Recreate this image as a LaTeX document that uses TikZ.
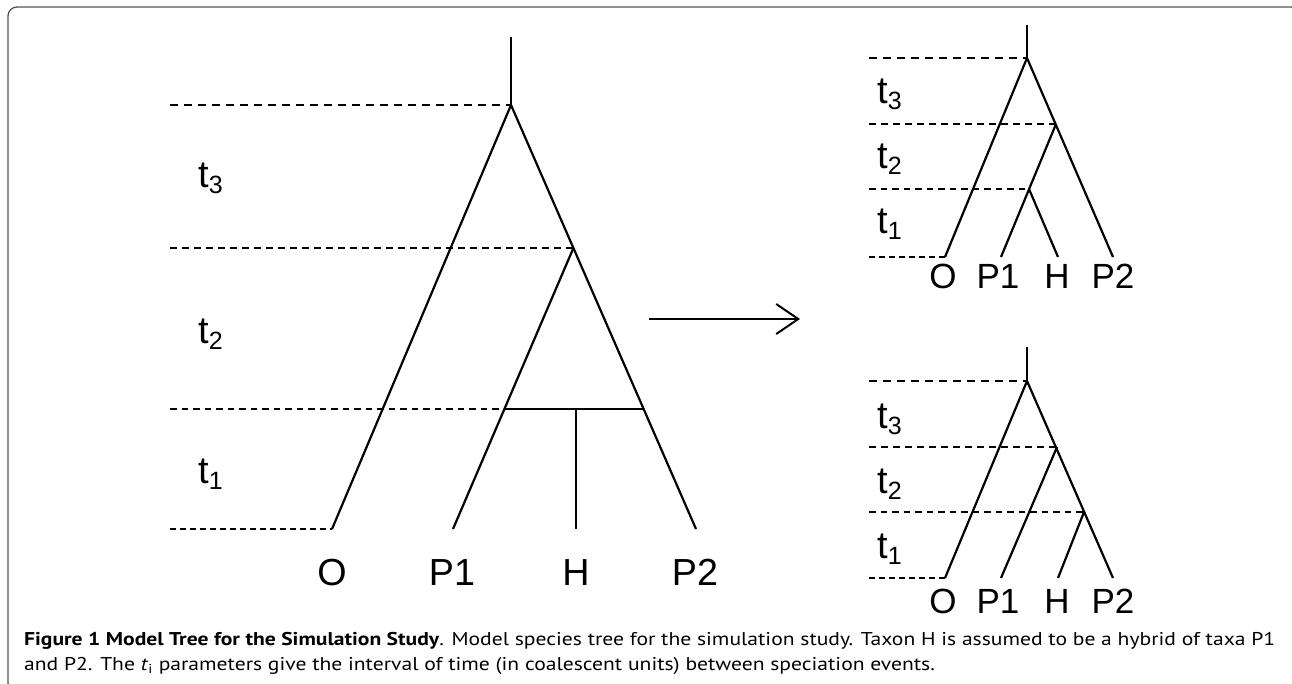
\documentclass[tikz,border=0pt]{standalone}
\usepackage{fontspec}
\setmainfont{Liberation Sans}
\newfontfamily\capfont{PT Sans}
\usetikzlibrary{arrows.meta}
\newsavebox\capboxA
\newsavebox\capboxB
\newcommand\tlab[1]{t\raisebox{-6pt}{\fontsize{25}{25}\selectfont #1}}
\definecolor{captext}{HTML}{333333}
\definecolor{framecol}{HTML}{555555}
\begin{document}
\sbox\capboxA{\capfont\fontsize{18.5}{22}\selectfont\textbf{Figure 1 Model Tree for the Simulation Study}. Model species tree for the simulation study. Taxon H is assumed to be a hybrid of taxa P1}%
\sbox\capboxB{\capfont\fontsize{18.5}{22}\selectfont and P2. The \textit{t}\textsubscript{i} parameters give the interval of time (in coalescent units) between speciation events.}%
\pgfmathsetmacro\capscale{1251/\the\wd\capboxA}%
\begin{tikzpicture}[x=1pt,y=-1pt,
  branch/.style={line width=2.2pt},
  guideA/.style={line width=1.7pt, dash pattern=on 8pt off 6pt},
  guideB/.style={line width=1.5pt, dash pattern=on 7pt off 5pt},
  guideC/.style={line width=1.4pt, dash pattern=on 6.5pt off 5pt},
  guideD/.style={line width=1.3pt, dash pattern=on 5.5pt off 4.5pt},
  leaflab/.style={anchor=base, inner sep=0pt, font=\fontsize{37.7}{40}\selectfont},
  smalllab/.style={anchor=base, inner sep=0pt, font=\fontsize{35}{38}\selectfont},
  tlabel/.style={anchor=base west, inner sep=0pt, font=\fontsize{38}{40}\selectfont},
  capline/.style={anchor=base west, inner sep=0pt, text=captext}
]
\useasboundingbox (0,0) rectangle (1292,683);
\begin{scope}
\clip (0,0) rectangle (1292,683);
\draw[framecol, line width=1.3pt, rounded corners=9pt] (8,7) rectangle (1300,692);
\end{scope}

% ---------- main tree ----------
\coordinate (mtop) at (511,37);
\coordinate (mroot) at (511,105);
\coordinate (mn2) at (573.4,248);
\coordinate (mhl) at (504.3,409);
\coordinate (mhr) at (643.6,409);
\coordinate (mhm) at (576,409);
\coordinate (mO) at (332,529);
\coordinate (mP1) at (453,529);
\coordinate (mH) at (576,529);
\coordinate (mP2) at (696,529);
\coordinate (mg3) at (170,105);
\coordinate (mg2) at (170,248);
\coordinate (mg1) at (170,409);
\coordinate (mg0) at (170,529);

\draw[guideA] (mg3) -- (mroot);
\draw[guideB] (mg2) -- (mn2);
\draw[guideC] (mg1) -- (mhl);
\draw[guideD] (mg0) -- (mO);

\draw[branch] (mtop) -- (mroot);
\draw[branch] (mO) -- (mroot) -- (mP2);
\draw[branch] (mn2) -- (mP1);
\draw[branch] (mhl) -- (mhr);
\draw[branch] (mhm) -- (mH);

\node[tlabel] (mt3) at (198,187) {\tlab{3}};
\node[tlabel] (mt2) at (198,343) {\tlab{2}};
\node[tlabel] (mt1) at (198,483) {\tlab{1}};

\node[leaflab] (mlO) at (332,585) {O};
\node[leaflab] (mlP1) at (452,585) {P1};
\node[leaflab] (mlH) at (576,585) {H};
\node[leaflab] (mlP2) at (695,585) {P2};

% ---------- arrow ----------
\coordinate (arA) at (649,319);
\coordinate (arB) at (800,319);
\draw[line width=2pt, -{Straight Barb[length=22pt,width=30pt,line width=2pt]}] (arA) -- (arB);

% ---------- top right tree ----------
\coordinate (atop) at (1027,25);
\coordinate (aroot) at (1027,58);
\coordinate (an2) at (1056,124);
\coordinate (an3) at (1029,189);
\coordinate (aO) at (945,257);
\coordinate (aP1) at (1001,257);
\coordinate (aH) at (1058,257);
\coordinate (aP2) at (1113,257);
\coordinate (ag3) at (869,58);
\coordinate (ag2) at (869,124);
\coordinate (ag1) at (869,189);
\coordinate (ag0) at (869,257);

\draw[guideA] (ag3) -- (aroot);
\draw[guideB] (ag2) -- (an2);
\draw[guideC] (ag1) -- (an3);
\draw[guideD] (ag0) -- (aO);

\draw[branch] (atop) -- (aroot);
\draw[branch] (aO) -- (aroot) -- (aP2);
\draw[branch] (an2) -- (aP1);
\draw[branch] (an3) -- (aH);

\node[tlabel] (at3) at (877,103) {\tlab{3}};
\node[tlabel] (at2) at (877,168) {\tlab{2}};
\node[tlabel] (at1) at (877,233) {\tlab{1}};

\node[smalllab] (alO) at (943,288) {O};
\node[smalllab] (alP1) at (998,288) {P1};
\node[smalllab] (alH) at (1057,288) {H};
\node[smalllab] (alP2) at (1113,288) {P2};

% ---------- bottom right tree ----------
\coordinate (btop) at (1027,347);
\coordinate (broot) at (1027,381);
\coordinate (bn2) at (1057,447);
\coordinate (bn3) at (1084,512);
\coordinate (bO) at (945,578);
\coordinate (bP1) at (1001,578);
\coordinate (bH) at (1058,578);
\coordinate (bP2) at (1113,578);
\coordinate (bg3) at (869,381);
\coordinate (bg2) at (869,447);
\coordinate (bg1) at (869,512);
\coordinate (bg0) at (869,578);

\draw[guideA] (bg3) -- (broot);
\draw[guideB] (bg2) -- (bn2);
\draw[guideC] (bg1) -- (bn3);
\draw[guideD] (bg0) -- (bO);

\draw[branch] (btop) -- (broot);
\draw[branch] (bO) -- (broot) -- (bP2);
\draw[branch] (bn2) -- (bP1);
\draw[branch] (bn3) -- (bH);

\node[tlabel] (bt3) at (877,428) {\tlab{3}};
\node[tlabel] (bt2) at (877,493) {\tlab{2}};
\node[tlabel] (bt1) at (877,558) {\tlab{1}};

\node[smalllab] (blO) at (943,613) {O};
\node[smalllab] (blP1) at (998,613) {P1};
\node[smalllab] (blH) at (1057,613) {H};
\node[smalllab] (blP2) at (1113,613) {P2};

% ---------- caption ----------
\node[capline] (cap1) at (24,645) {\scalebox{\capscale}[1]{\usebox\capboxA}};
\node[capline] (cap2) at (24,670) {\scalebox{\capscale}[1]{\usebox\capboxB}};
\end{tikzpicture}
\end{document}
